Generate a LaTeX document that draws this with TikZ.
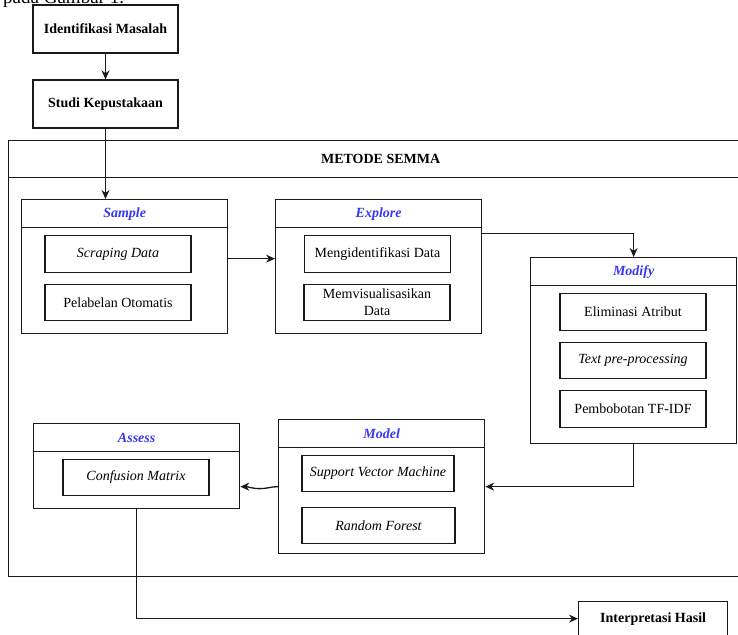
\documentclass[tikz,border=0pt]{standalone}
\usepackage{fontspec}
\setmainfont{Liberation Serif}
\usetikzlibrary{arrows.meta,calc}
\definecolor{hdrblue}{RGB}{55,55,245}
\definecolor{ln}{RGB}{25,25,25}
\begin{document}
\begin{tikzpicture}[x=1pt,y=-1pt,
  every node/.style={font=\fontsize{14}{16}\selectfont, inner sep=2pt},
  lw/.style={draw=ln, line width=1.3pt},
  stagebox/.style={lw, minimum width=145pt, minimum height=48pt, font=\fontsize{14}{16}\selectfont\bfseries},
  cont/.style={lw, minimum width=206pt, anchor=north west},
  hdr/.style={lw, minimum width=206pt, minimum height=28pt, anchor=north, text=hdrblue, font=\fontsize{14}{16}\selectfont\bfseries\itshape},
  item/.style={lw, minimum width=146pt, minimum height=36.5pt, align=center},
  itl/.style={font=\fontsize{14}{16}\selectfont\itshape},
  arr/.style={draw=ln, line width=1.3pt, -{Stealth[length=9pt,width=8pt]}},
  conn/.style={draw=ln, line width=1.3pt}
]
\useasboundingbox (0,0) rectangle (738,634);
\clip (0,0) rectangle (738,634);

% clipped caption line at the very top
\node[anchor=base west, inner sep=0, font=\fontsize{19}{22}\selectfont] (cap) at (3,4) {pada Gambar 1.};

% top stages
\node[stagebox] (idm) at (105.5,29) {Identifikasi Masalah};
\node[stagebox] (studi) at (105.5,104) {Studi Kepustakaan};

% SEMMA frame
\node[lw, minimum width=744pt, minimum height=436pt, anchor=north west] (frame) at (8,140) {};
\node[lw, minimum width=744pt, minimum height=37pt, anchor=north west, font=\fontsize{14}{16}\selectfont\bfseries] (frameh) at (8,140) {METODE SEMMA};

% Sample
\node[cont, minimum height=134pt] (sample) at (21,199) {};
\node[hdr] (sampleh) at (sample.north) {Sample};
\node[item, itl] (scraping) at (118,254) {Scraping Data};
\node[item] (pelabelan) at (118,302.5) {Pelabelan Otomatis};

% Explore
\node[cont, minimum height=134pt] (explore) at (275,199) {};
\node[hdr] (exploreh) at (explore.north) {Explore};
\node[item] (mengid) at (377.5,254) {Mengidentifikasi Data};
\node[item, font=\fontsize{14}{17}\selectfont] (memvis) at (377,302.5) {Memvisualisasikan\\Data};

% Modify
\node[cont, minimum height=186pt] (modify) at (530,257) {};
\node[hdr] (modifyh) at (modify.north) {Modify};
\node[item] (elim) at (633,312) {Eliminasi Atribut};
\node[item, itl] (textpre) at (633,360.5) {Text pre-processing};
\node[item] (tfidf) at (633,409) {Pembobotan TF-IDF};

% Model
\node[cont, minimum height=134pt] (model) at (278,419) {};
\node[hdr] (modelh) at (model.north) {Model};
\node[item, itl, minimum width=152pt] (svm) at (378,473.5) {Support Vector Machine};
\node[item, itl, minimum width=153pt] (rf) at (378.5,525.5) {Random Forest};

% Assess
\node[cont, minimum height=85pt] (assess) at (33,423) {};
\node[hdr] (assessh) at (assess.north) {Assess};
\node[item, itl] (conf) at (136,477.5) {Confusion Matrix};

% Interpretasi
\node[lw, minimum width=149pt, minimum height=34pt, anchor=north west, font=\fontsize{14}{16}\selectfont\bfseries] (interp) at (578,601) {Interpretasi Hasil};

% connectors
\draw[arr] (idm) -- (studi);
\draw[arr] (studi.south) -- (studi.south |- sample.north);
\draw[arr] ([yshift=8pt]sample.east) -- ([yshift=8pt]explore.west);
\draw[arr] ([yshift=33pt]explore.east) -| (modify.north);
\draw[arr] (modify.south) |- (model.east);
\draw[arr] (model.west) to[out=180,in=0] ([xshift=-18pt,yshift=-2pt]model.west) to[out=180,in=0] ([yshift=-20.5pt]assess.east);
\draw[arr] (assess.south) |- (interp.west);
\end{tikzpicture}
\end{document}
